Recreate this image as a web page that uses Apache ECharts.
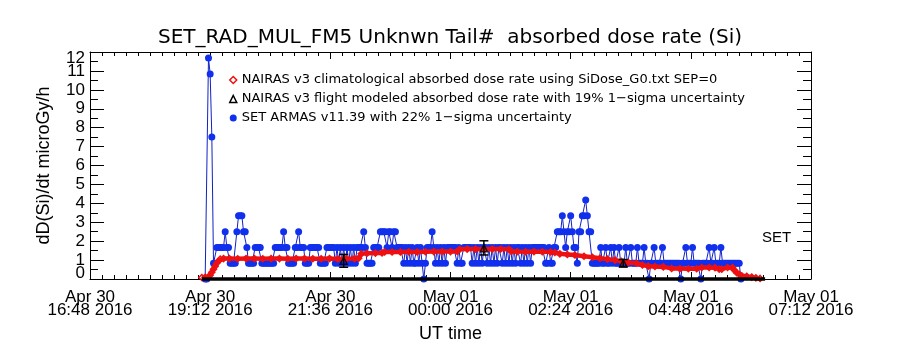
<!DOCTYPE html>
<html>
<head>
<meta charset="utf-8">
<title>SET_RAD_MUL_FM5 absorbed dose rate</title>
<script src="https://cdn.jsdelivr.net/npm/echarts@6/dist/echarts.min.js"></script>
<style>
  html, body { margin: 0; padding: 0; background: #ffffff; }
  #chart { width: 900px; height: 350px; }
</style>
</head>
<body>
<div id="chart"></div>
<script>
// ---- data -------------------------------------------------------------
// Time axis runs in minutes from 2016-04-30 00:00 UT.
const axisStartMin = 1008;   // Apr 30 16:48
const axisEndMin = 1872;     // May 01 07:12
const axisStepMin = 144;     // 2h24m between labelled ticks
const xTickLabels = [
  'Apr 30\n16:48 2016', 'Apr 30\n19:12 2016', 'Apr 30\n21:36 2016',
  'May 01\n00:00 2016', 'May 01\n02:24 2016', 'May 01\n04:48 2016',
  'May 01\n07:12 2016'
];
// dose-rate tick labels, split over two label rows so neighbours never collide
const yEvenTicks = [0, 2, 4, 6, 8, 10, 12];
const yOddTicks = [1, 3, 5, 7, 9, 11];

// SET ARMAS v11.39 dose rate, one sample every 2 minutes from 19:06 UT
const armasStart = '19:06';
const armasStepMin = 2;
const armasDose = [
  0, 0, 11.68, 10.84, 7.51, 0.83, 0.83, 1.67, 1.67, 1.67, 1.67, 1.67, 2.5, 1.67, 1.67, 0.83, 0.83, 0.83, 0.83, 2.5,
  3.34, 3.34, 3.34, 2.5, 2.5, 1.67, 0.83, 0.83, 0.83, 0.83, 1.67, 1.67, 1.67, 1.67, 0.83, 0.83, 0.83, 0.83, 0.83, 0.83,
  0.83, 0.83, 1.67, 1.67, 1.67, 1.67, 1.67, 2.5, 1.67, 1.67, 0.83, 0.83, 0.83, 0.83, 1.67, 1.67, 2.5, 1.67, 1.67, 1.67,
  0.83, 0.83, 0.83, 1.67, 1.67, 1.67, 1.67, 1.67, 1.67, 0.83, 0.83, 0.83, 0.83, 1.67, 1.67, 1.67, 1.67, 1.67, 0.83, 1.67,
  0.83, 1.67, 0.83, 1.67, 0.83, 1.67, 0.83, 1.67, 0.83, 1.67, 0.83, 1.67, 1.67, 1.67, 1.67, 2.5, 1.67, 0.83, 0.83, 0.83,
  0.83, 1.67, 1.67, 1.67, 1.67, 2.5, 2.5, 2.5, 2.5, 1.67, 2.5, 2.5, 1.67, 2.5, 2.5, 1.67, 1.67, 1.67, 1.67, 0.83,
  1.67, 0.83, 1.67, 0.83, 1.67, 0.83, 0.83, 1.67, 0.83, 1.67, 0.83, 0, 0.83, 1.67, 1.67, 1.67, 2.5, 1.67, 0.83, 1.67,
  0.83, 1.67, 0.83, 1.67, 0.83, 1.67, 1.67, 1.67, 1.67, 1.67, 1.67, 0.83, 1.67, 0.83, 0.83, 1.67, 1.67, 1.67, 1.67, 1.67,
  0.83, 1.67, 0.83, 1.67, 0.83, 1.67, 0.83, 1.67, 1.67, 0.83, 1.67, 0.83, 1.67, 0.83, 1.67, 0.83, 1.67, 1.67, 0.83, 1.67,
  0.83, 1.67, 0.83, 1.67, 0.83, 1.67, 0.83, 1.67, 1.67, 0.83, 1.67, 0.83, 1.67, 0.83, 1.67, 0.83, 1.67, 1.67, 1.67, 1.67,
  1.67, 1.67, 1.67, 1.67, 0.83, 0.83, 1.67, 0.83, 0.83, 1.67, 1.67, 2.5, 2.5, 2.5, 3.34, 2.5, 1.67, 2.5, 2.5, 3.34,
  2.5, 1.67, 1.67, 0.83, 2.5, 2.5, 3.34, 3.34, 4.17, 3.34, 2.5, 2.5, 0.83, 0.83, 0.83, 0.83, 0.83, 1.67, 0.83, 0.83,
  1.67, 0.83, 0.83, 1.67, 0.83, 1.67, 0.83, 0.83, 1.67, 0.83, 0.83, 0.83, 1.67, 0.83, 0.83, 1.67, 0.83, 0.83, 0.83, 1.67,
  0.83, 0.83, 0.83, 1.67, 0.83, 0.83, 0, 0.83, 0.83, 1.67, 0.83, 0.83, 0.83, 0.83, 1.67, 0.83, 0.83, 0.83, 0.83, 0.83,
  0.83, 0.83, 0.83, 0.83, 0.83, 0, 0.83, 0.83, 1.67, 0.83, 0.83, 0.83, 1.67, 0.83, 0.83, 0.83, 0.83, 0, 0.83, 0.83,
  0.83, 0.83, 1.67, 0.83, 0.83, 1.67, 0.83, 0.83, 0.83, 1.67, 0.83, 0.83, 0.83, 0.83, 0.83, 0.83, 0.83, 0.83, 0.83, 0.83,
  0.83, 0
];

// NAIRAS v3 climatological absorbed dose rate (SiDose_G0.txt, SEP=0)
const climTimes = [
  '19:02', '19:06', '19:10', '19:12', '19:14', '19:16', '19:18', '19:20', '19:22', '19:24',
  '19:28', '19:35', '19:45', '19:55', '20:05', '20:15', '20:25', '20:35', '20:45', '20:55',
  '21:05', '21:15', '21:25', '21:35', '21:45', '21:55', '22:05', '22:10', '22:13', '22:20',
  '22:30', '22:38', '22:41', '22:50', '23:00', '23:10', '23:20', '23:30', '23:40', '23:50',
  '00:00', '00:08', '00:11', '00:20', '00:30', '00:40', '00:50', '01:00', '01:10', '01:13',
  '01:20', '01:30', '01:40', '01:50', '02:00', '02:05', '02:11', '02:20', '02:29', '02:40',
  '02:50', '02:59', '03:08', '03:17', '03:25', '03:33', '03:43', '03:50', '03:57', '04:05',
  '04:15', '04:25', '04:35', '04:45', '04:55', '05:01', '05:10', '05:17', '05:22', '05:25',
  '05:32', '05:38', '05:40', '05:43', '05:46', '05:49', '05:55', '06:01', '06:06', '06:11'
];
const climDose = [
  0.08, 0.09, 0.12, 0.2, 0.36, 0.52, 0.68, 0.84, 0.95, 1.05,
  1.08, 1.08, 1.07, 1.08, 1.08, 1.07, 1.08, 1.08, 1.07, 1.08,
  1.08, 1.07, 1.07, 1.08, 1.06, 1.07, 1.08, 1.1, 1.33, 1.36,
  1.37, 1.38, 1.43, 1.43, 1.43, 1.44, 1.43, 1.44, 1.45, 1.45,
  1.45, 1.46, 1.57, 1.58, 1.58, 1.57, 1.58, 1.58, 1.57, 1.46,
  1.45, 1.44, 1.45, 1.44, 1.43, 1.4, 1.33, 1.3, 1.27, 1.2,
  1.15, 1.1, 1.05, 1.0, 0.93, 0.87, 0.83, 0.74, 0.68, 0.66,
  0.64, 0.56, 0.55, 0.54, 0.54, 0.61, 0.61, 0.6, 0.52, 0.52,
  0.61, 0.6, 0.47, 0.33, 0.25, 0.17, 0.14, 0.1, 0.06, 0.03
];

// NAIRAS v3 flight-modeled absorbed dose rate with its uncertainty band
const flightTimes = ['21:52', '00:40', '03:27'];
const flightDose = [0.97, 1.63, 0.84];
const flightLow = [0.62, 1.27, 0.63];
const flightHigh = [1.3, 2.02, 1.03];

// flight track span drawn along the zero line
const trackTimes = ['19:02', '06:17'];

// ---- helpers ------------------------------------------------------------
// 'HH:MM' -> minutes from Apr 30 00:00; morning hours fall on May 01
function toMinutes(hhmm) {
  const [h, m] = hhmm.split(':').map(Number);
  return h * 60 + m + (h < 12 ? 1440 : 0);
}

const armasData = armasDose.map((v, i) => [toMinutes(armasStart) + i * armasStepMin, v]);
const climData = climTimes.map((t, i) => [toMinutes(t), climDose[i]]);
const flightData = flightTimes.map((t, i) => [toMinutes(t), flightDose[i]]);
const flightBars = flightTimes.map((t, i) => [toMinutes(t), flightLow[i], flightHigh[i]]);
const trackData = trackTimes.map(t => [toMinutes(t), 0]);

const NAME_CLIM = 'NAIRAS v3 climatological absorbed dose rate using SiDose_G0.txt SEP=0';
const NAME_FLIGHT = 'NAIRAS v3 flight modeled absorbed dose rate with 19% 1\u2212sigma uncertainty';
const NAME_ARMAS = 'SET ARMAS v11.39 with 22% 1\u2212sigma uncertainty';

const BLUE = '#1030ee';
const BLUE_LINE = '#1222c4';
const RED = '#ee1111';
const LABEL_FONT = 'Liberation Sans';

const xAxisCommon = {
  type: 'value',
  min: axisStartMin,
  max: axisEndMin,
  interval: axisStepMin,
  splitLine: { show: false },
  axisLine: { show: true, onZero: false, lineStyle: { color: '#000', width: 1 } },
  axisTick: { show: true, inside: true, length: 7, lineStyle: { color: '#000', width: 1 } },
  minorTick: { show: true, splitNumber: 10, length: 4, lineStyle: { color: '#000', width: 1 } },
  minorSplitLine: { show: false }
};

const yAxisCommon = {
  type: 'value',
  min: 0,
  max: 12,
  interval: 1,
  splitLine: { show: false },
  axisLine: { show: true, onZero: false, lineStyle: { color: '#000', width: 1 } },
  axisTick: { show: true, inside: true, length: 14, lineStyle: { color: '#000', width: 1 } },
  minorTick: { show: true, splitNumber: 2, length: 8, lineStyle: { color: '#000', width: 1 } },
  minorSplitLine: { show: false }
};

const yLabelStyle = {
  show: true,
  interval: 0,
  hideOverlap: false,
  margin: 5,
  fontFamily: LABEL_FONT,
  fontSize: 17,
  lineHeight: 12,
  color: '#000',
  showMinLabel: true,
  showMaxLabel: true
};

const chart = echarts.init(document.getElementById('chart'), null, { renderer: 'canvas' });

chart.setOption({
  animation: false,
  backgroundColor: '#ffffff',
  title: {
    text: 'SET_RAD_MUL_FM5 Unknwn Tail#  absorbed dose rate (Si)',
    left: 'center',
    top: 28,
    padding: 0,
    textStyle: { fontFamily: 'DejaVu Sans', fontSize: 20, fontWeight: 'normal', color: '#000' }
  },
  legend: {
    orient: 'vertical',
    left: 224,
    top: 68,
    itemWidth: 7,
    itemHeight: 7,
    itemGap: 5,
    selectedMode: false,
    textStyle: { fontFamily: 'DejaVu Sans', fontSize: 13, color: '#000', lineHeight: 14 },
    data: [
      { name: NAME_CLIM, icon: 'diamond', itemStyle: { color: '#fff', borderColor: RED, borderWidth: 1.5 } },
      { name: NAME_FLIGHT, icon: 'triangle', itemStyle: { color: '#fff', borderColor: '#000', borderWidth: 1.5 } },
      { name: NAME_ARMAS, icon: 'circle', itemStyle: { color: BLUE, borderWidth: 0 } }
    ]
  },
  grid: {
    left: 90, right: 89, top: 52, bottom: 71,
    containLabel: false,
    outerBoundsMode: 'none'
  },
  xAxis: [
    Object.assign({}, xAxisCommon, {
      position: 'bottom',
      name: 'UT time',
      nameLocation: 'middle',
      nameGap: 46,
      nameMoveOverlap: false,
      nameTextStyle: { fontFamily: LABEL_FONT, fontSize: 18, color: '#000' },
      axisLabel: {
        show: true,
        interval: 0,
        hideOverlap: false,
        margin: 12,
        fontFamily: LABEL_FONT,
        fontSize: 17,
        lineHeight: 13,
        color: '#000',
        showMinLabel: true,
        showMaxLabel: true,
        formatter: v => xTickLabels[Math.round((v - axisStartMin) / axisStepMin)] || ''
      }
    }),
    Object.assign({}, xAxisCommon, {
      position: 'top',
      axisLabel: { show: false }
    })
  ],
  yAxis: [
    // left axis: line, ticks, even labels and the axis title
    Object.assign({}, yAxisCommon, {
      position: 'left',
      name: 'dD(Si)/dt microGy/h',
      nameLocation: 'middle',
      nameGap: 37,
      nameMoveOverlap: false,
      nameTextStyle: { fontFamily: LABEL_FONT, fontSize: 18, color: '#000' },
      axisLabel: Object.assign({}, yLabelStyle, {
        customValues: yEvenTicks,
        formatter: v => (yEvenTicks.indexOf(v) >= 0 ? String(v) : ''),
        verticalAlignMinLabel: 'bottom',
        verticalAlignMaxLabel: 'top'
      })
    }),
    // right axis: mirrored ticks, no labels
    Object.assign({}, yAxisCommon, {
      position: 'right',
      axisLabel: { show: false }
    }),
    // second label row on the left for the odd values
    {
      type: 'value',
      position: 'left',
      min: 0,
      max: 12,
      interval: 1,
      splitLine: { show: false },
      axisLine: { show: false },
      axisTick: { show: false },
      minorTick: { show: false },
      axisLabel: Object.assign({}, yLabelStyle, {
        customValues: yOddTicks,
        formatter: v => (yOddTicks.indexOf(v) >= 0 ? String(v) : ''),
        verticalAlignMinLabel: 'middle',
        verticalAlignMaxLabel: 'middle'
      })
    }
  ],
  graphic: [
    {
      type: 'text',
      left: 762,
      top: 230,
      style: { text: 'SET', font: '15px "Liberation Sans"', fill: '#000' }
    }
  ],
  series: [
    {
      name: NAME_ARMAS,
      type: 'line',
      xAxisIndex: 0,
      yAxisIndex: 0,
      data: armasData,
      symbol: 'circle',
      symbolSize: 7,
      showSymbol: true,
      showAllSymbol: true,
      itemStyle: { color: BLUE },
      lineStyle: { color: BLUE_LINE, width: 1 },
      emphasis: { disabled: true },
      z: 2
    },
    {
      name: NAME_CLIM,
      type: 'line',
      xAxisIndex: 0,
      yAxisIndex: 0,
      data: climData,
      symbol: 'diamond',
      symbolSize: 6,
      showSymbol: true,
      showAllSymbol: true,
      itemStyle: { color: 'rgba(0,0,0,0)', borderColor: RED, borderWidth: 1.5 },
      lineStyle: { color: RED, width: 4.5 },
      emphasis: { disabled: true },
      z: 3
    },
    {
      name: 'flight track',
      type: 'line',
      xAxisIndex: 0,
      yAxisIndex: 0,
      data: trackData,
      symbol: 'none',
      clip: false,
      lineStyle: { color: '#000', width: 3.5 },
      emphasis: { disabled: true },
      z: 4
    },
    {
      name: NAME_FLIGHT,
      type: 'custom',
      xAxisIndex: 0,
      yAxisIndex: 0,
      data: flightBars,
      encode: { x: 0, y: [1, 2] },
      renderItem: function (params, api) {
        const t = api.value(0);
        const lo = api.coord([t, api.value(1)]);
        const hi = api.coord([t, api.value(2)]);
        const cap = 4.5;
        const style = { stroke: '#000', lineWidth: 1.5, fill: null };
        return {
          type: 'group',
          children: [
            { type: 'line', shape: { x1: lo[0], y1: lo[1], x2: hi[0], y2: hi[1] }, style: style },
            { type: 'line', shape: { x1: lo[0] - cap, y1: lo[1], x2: lo[0] + cap, y2: lo[1] }, style: style },
            { type: 'line', shape: { x1: hi[0] - cap, y1: hi[1], x2: hi[0] + cap, y2: hi[1] }, style: style }
          ]
        };
      },
      z: 5
    },
    {
      name: NAME_FLIGHT,
      type: 'scatter',
      xAxisIndex: 0,
      yAxisIndex: 0,
      data: flightData,
      symbol: 'triangle',
      symbolSize: 7,
      itemStyle: { color: 'rgba(0,0,0,0)', borderColor: '#000', borderWidth: 1.5 },
      emphasis: { disabled: true },
      z: 6
    }
  ]
});
</script>
</body>
</html>
